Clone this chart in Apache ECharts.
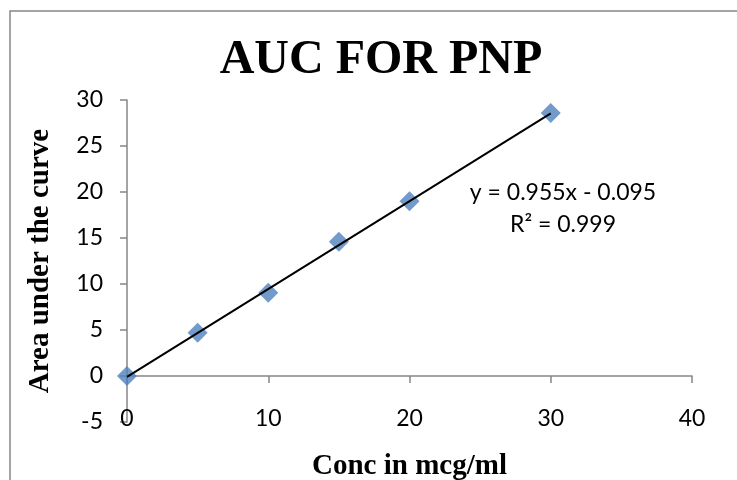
<!DOCTYPE html>
<html>
<head>
<meta charset="utf-8">
<script src="https://cdn.jsdelivr.net/npm/echarts@6/dist/echarts.min.js"></script>
<style>
  html, body { margin: 0; padding: 0; background: #fff; }
  #main { width: 737px; height: 480px; }
</style>
</head>
<body>
<div id="main"></div>
<script>
// 数据
const concX = [0, 5, 10, 15, 20, 30];
const aucY = [0, 4.7, 9.05, 14.6, 19.0, 28.6];
const xTicks = [0, 10, 20, 30, 40];
const yTicks = [-5, 0, 5, 10, 15, 20, 25, 30];
// 趋势线 (Excel linear trendline)
const trendSlope = 0.955;
const trendIntercept = -0.095;
const trendLabel = 'y = 0.955x - 0.095';
const r2Label = 'R² = 0.999';

const axisGray = '#868686';
const tickFont = 'Lato, "Open Sans", sans-serif';
const serif = '"Liberation Serif", "DejaVu Serif", serif';

const chart = echarts.init(document.getElementById('main'));

const points = concX.map((x, i) => [x, aucY[i]]);
const xMax = concX[concX.length - 1];
const trend = [
  [concX[0], trendSlope * concX[0] + trendIntercept],
  [xMax, trendSlope * xMax + trendIntercept]
];

const option = {
  animation: false,
  backgroundColor: '#fff',
  title: {
    text: 'AUC FOR PNP',
    left: 376,
    top: 32,
    textAlign: 'center',
    textStyle: {
      fontFamily: serif,
      fontWeight: 'bold',
      fontSize: 48,
      color: '#000'
    }
  },
  grid: {
    left: 127,
    right: 45,
    top: 100,
    bottom: 58,
    outerBoundsMode: 'none' // v6: 不自动收缩网格
  },
  xAxis: [
    {
      // 底部数字标签
      type: 'value',
      min: xTicks[0],
      max: xTicks[xTicks.length - 1],
      interval: 10,
      position: 'bottom',
      axisLine: { show: false, onZero: false },
      axisTick: { show: false },
      splitLine: { show: false },
      axisLabel: {
        margin: -15,
        fontFamily: tickFont,
        fontSize: 23,
        color: '#000'
      },
      name: 'Conc in mcg/ml',
      nameLocation: 'middle',
      nameGap: 30,
      nameTextStyle: {
        fontFamily: serif,
        fontWeight: 'bold',
        fontSize: 29,
        color: '#000'
      }
    },
    {
      // 在 y=0 处的轴线
      type: 'value',
      min: xTicks[0],
      max: xTicks[xTicks.length - 1],
      interval: 10,
      position: 'bottom',
      axisLine: { show: true, onZero: true, lineStyle: { color: axisGray, width: 1.5 } },
      axisTick: { show: true, length: 7, lineStyle: { color: axisGray, width: 1.5 } },
      axisLabel: { show: false },
      splitLine: { show: false }
    }
  ],
  yAxis: {
    type: 'value',
    min: yTicks[0],
    max: yTicks[yTicks.length - 1],
    interval: 5,
    axisLine: { show: true, onZero: false, lineStyle: { color: axisGray, width: 1.5 } },
    axisTick: { show: true, length: 7, lineStyle: { color: axisGray, width: 1.5 } },
    splitLine: { show: false },
    axisLabel: {
      margin: 24,
      fontFamily: tickFont,
      fontSize: 23,
      color: '#000'
    },
    name: 'Area under the curve',
    nameLocation: 'middle',
    nameGap: 72,
    nameTextStyle: {
      fontFamily: serif,
      fontWeight: 'bold',
      fontSize: 29,
      color: '#000'
    }
  },
  series: [
    {
      type: 'scatter',
      xAxisIndex: 0,
      data: points,
      symbol: 'diamond',
      symbolSize: 20,
      itemStyle: { color: '#4f81bd' },
      z: 2
    },
    {
      type: 'line',
      xAxisIndex: 0,
      data: trend,
      showSymbol: false,
      lineStyle: { color: '#000', width: 2 },
      z: 3
    }
  ],
  graphic: [
    {
      type: 'rect',
      shape: { x: 10, y: 11, width: 900, height: 600 },
      style: { fill: 'none', stroke: axisGray, lineWidth: 1.5 },
      silent: true
    },
    {
      type: 'text',
      style: {
        x: 563, y: 193,
        text: trendLabel,
        textAlign: 'center',
        textVerticalAlign: 'middle',
        fontFamily: tickFont,
        fontSize: 23,
        fill: '#000'
      }
    },
    {
      type: 'text',
      style: {
        x: 563, y: 225,
        text: r2Label,
        textAlign: 'center',
        textVerticalAlign: 'middle',
        fontFamily: tickFont,
        fontSize: 23,
        fill: '#000'
      }
    }
  ]
};

chart.setOption(option);
</script>
</body>
</html>
